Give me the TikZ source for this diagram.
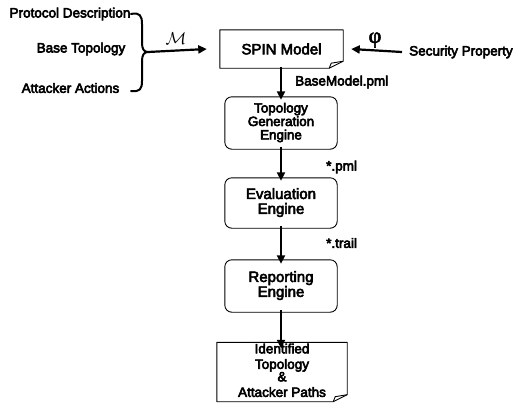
\documentclass[tikz,border=0pt]{standalone}
\usepackage{fontspec}
\setmainfont{Liberation Sans}
\newfontfamily\greekfont{Liberation Serif}
\usetikzlibrary{arrows.meta,calc}
% heavier glyphs: fill and stroke the outlines (reset by the node's own scope)
\newcommand{\heavy}{\special{pdf:literal direct 2 Tr 0.55 w}}
\newcommand{\lines}[1]{\begin{tabular}{@{}>{\heavy}c@{}}#1\end{tabular}}
\usepackage{array}
\begin{document}
\begin{tikzpicture}[x=1pt,y=-1pt,
  lbl/.style={inner sep=0pt,font=\fontsize{13.5}{14}\selectfont\heavy},
  boxtext/.style={inner sep=0pt},
  stageline/.style={line width=0.9pt,rounded corners=7pt},
  docline/.style={line width=0.9pt,line join=round},
  arr/.style={line width=2.2pt,-{Triangle[length=8.5pt,width=8pt]}},
  brace/.style={line width=2pt,line cap=round}]
\useasboundingbox (0,0) rectangle (513,402);

% input labels
\node[lbl] (proto) at (70,14) {Protocol Description};
\node[lbl] (base) at (81,49) {Base Topology};
\node[lbl] (att) at (70.5,88) {Attacker Actions};
\node[lbl,anchor=west] (sec) at (409,52) {Security Property};

% the model and the stages (outlines are drawn below)
\node[boxtext,minimum width=123pt,minimum height=38pt,font=\fontsize{15}{16}\selectfont\heavy] (spin) at (281.5,49) {SPIN Model};
\node[boxtext,minimum width=112pt,minimum height=52pt,font=\fontsize{13.4}{12.5}\selectfont\heavy] (topo) at (281,123) {\lines{Topology\\Generation\\Engine}};
\node[boxtext,minimum width=112pt,minimum height=50pt,font=\fontsize{15}{13.5}\selectfont\heavy] (eval) at (281,203) {\lines{Evaluation\\Engine}};
\node[boxtext,minimum width=112pt,minimum height=52pt,font=\fontsize{15}{13.5}\selectfont\heavy] (rep) at (281,286) {\lines{Reporting\\Engine}};
\node[boxtext,minimum width=130pt,minimum height=57pt,font=\fontsize{13.5}{15.5}\selectfont\heavy] (out) at (282,372) {\lines{Identified\\Topology\\[-3pt]\&\\Attacker Paths}};

% rounded stage outlines
\foreach \n in {topo,eval,rep}
  \draw[stageline] (\n.north west) rectangle (\n.south east);

% document outlines with a curled corner
\foreach \n in {spin,out}{
  \draw[docline]
    (\n.north west) -- (\n.north east) -- ($(\n.south east)+(0,-7)$)
    -- ($(\n.south east)+(-14,0)$) -- (\n.south west) -- cycle;
  \draw[docline]
    ($(\n.south east)+(0,-7)$) -- ($(\n.south east)+(-12,-5)$) -- ($(\n.south east)+(-14,0)$);
}

% brace gathering the inputs
\coordinate (tip) at (148,52);
\draw[brace] (131,14) .. controls (140,12) and (142,16) .. (142,24)
  -- (142,43) .. controls (142,49) and (144,52) .. (tip)
  .. controls (144,52) and (142,55) .. (142,61)
  -- (142,81) .. controls (142,89) and (140,92) .. (131,91);

% connectors
\draw[arr] (tip) -- ([xshift=-13pt]spin.west);
\node[font=\fontsize{17}{17}\selectfont] (mlab) at (176,39) {$\mathcal{M}$};
\draw[arr] ([xshift=-7pt]sec.west) -- ([xshift=8pt]spin.east);
\node[font=\greekfont\fontsize{22}{22}\selectfont\heavy] (philab) at (375,40) {φ};

\draw[arr] ([yshift=1pt]spin.south -| topo.north) -- ([yshift=-3pt]topo.north);
\draw[arr] ([yshift=2pt]topo.south) -- ([yshift=-3pt]eval.north);
\draw[arr] ([yshift=2pt]eval.south) -- ([yshift=-4pt]rep.north);
\draw[arr] ([yshift=2pt]rep.south) -- ([yshift=-6pt]out.north -| rep.south);

% artefact labels
\node[lbl,anchor=west] (bm) at (295,82) {BaseModel.pml};
\node[lbl,anchor=west] (pml) at (326,167) {*.pml};
\node[lbl,anchor=west] (trail) at (326,243) {*.trail};
\end{tikzpicture}
\end{document}
